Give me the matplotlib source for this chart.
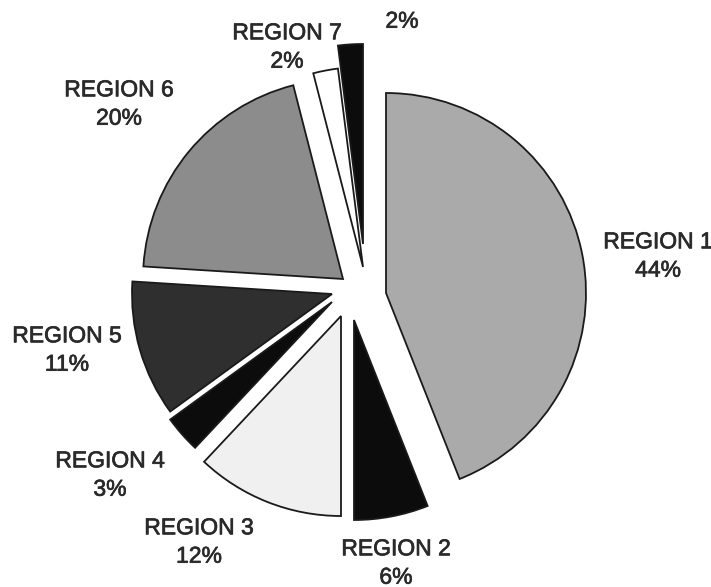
import matplotlib.pyplot as plt
import matplotlib.patheffects as pe

# Datos del grafico
regiones = ["REGION 1", "REGION 2", "REGION 3", "REGION 4",
            "REGION 5", "REGION 6", "REGION 7", "REGION 8"]
porcentajes = [44, 6, 12, 3, 11, 20, 2, 2]

# estilo de cada rebanada
colores = ["#aaaaaa", "#0c0c0c", "#f0f0f0", "#0c0c0c",
           "#2f2f2f", "#8c8c8c", "#ffffff", "#0c0c0c"]

# vertice de cada rebanada separada (pixeles, desde arriba a la izquierda)
vertices = [(386, 293), (354, 320), (341, 316), (332, 302),
            (332, 294), (343, 279), (363, 267), (363, 244)]

# centro de cada etiqueta (pixeles)
pos_etiquetas = [(658, 256), (396, 563), (199, 542), (110, 475),
                 (67, 350), (119, 104), (287, 47), (402, 7)]

RADIO = 200
W, H = 711, 587

fig = plt.figure(figsize=(7.11, 5.87), dpi=100)
ax = fig.add_axes([0, 0, 1, 1])
cunas, _ = ax.pie(porcentajes, colors=colores, startangle=90,
                  counterclock=False, radius=RADIO,
                  wedgeprops=dict(edgecolor="#1a1a1a", linewidth=1.3))
for cuna, (vx, vy) in zip(cunas, vertices):
    cuna.set_center((vx, -vy))

ax.set_xlim(0, W)
ax.set_ylim(-H, 0)
ax.set_aspect("auto")
ax.axis("off")

for nombre, pct, (px, py) in zip(regiones, porcentajes, pos_etiquetas):
    ax.text(px, -py, f"{nombre}\n{pct}%",
            ha="center", va="center", fontsize=16.5, color="#2a2a2a",
            family="Liberation Sans", linespacing=1.3,
            path_effects=[pe.withStroke(linewidth=0.5, foreground="#2a2a2a")])

fig.savefig("out.png", dpi=100)
